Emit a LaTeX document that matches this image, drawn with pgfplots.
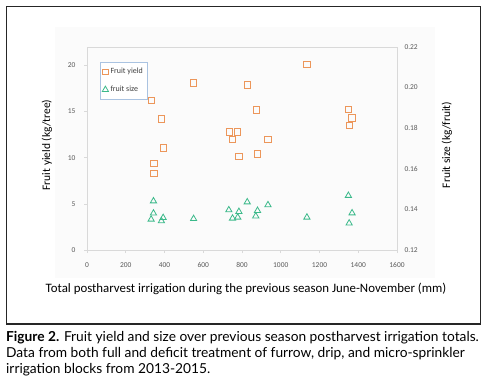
\documentclass[border=0pt]{standalone}
\usepackage{pgfplots}
\pgfplotsset{compat=1.18}
\usepackage{fontspec}
\setmainfont{Carlito}
\newfontfamily\capfont{Lato}
\definecolor{yorange}{RGB}{236,150,90}
\definecolor{sgreen}{RGB}{59,185,138}
\definecolor{axgray}{RGB}{217,217,217}
\definecolor{tickgray}{RGB}{89,89,89}
\definecolor{legblue}{RGB}{170,195,225}
\pgfplotstableread{
x y
1135 20.1
550 18.1
828 17.9
331 16.2
874 15.2
1349 15.25
1368 14.3
1355 13.5
384 14.2
734 12.8
775 12.8
751 12.0
934 12.0
394 11.05
784 10.15
880 10.4
345 9.4
345 8.3
}\yieldtab
\pgfplotstableread{
x y
343 0.1441
343 0.1381
331 0.1351
393 0.1359
384 0.1343
550 0.1354
732 0.1397
784 0.1389
751 0.1356
778 0.1361
827 0.1436
880 0.1394
871 0.1367
934 0.1422
1135 0.1361
1349 0.1468
1368 0.1382
1353 0.1332
}\sizetab
\begin{document}
\begin{tikzpicture}[x=1bp,y=1bp]
\path[use as bounding box] (0,0) rectangle (490,382);
\fill[gray!3] (55,355) rectangle (435,104);
\draw[line width=1.5bp, black!85] (6.5,375.5) rectangle (480.5,58);
\begin{axis}[
  at={(87bp,132bp)}, anchor=south west,
  scale only axis, width=310bp, height=203bp,
  xmin=0, xmax=1600, ymin=0, ymax=22,
  xtick={0,200,...,1600}, ytick={0,5,...,20},
  axis line style={axgray, line width=0.8bp},
  tick style={axgray, line width=0.6bp},
  major tick length=3bp,
  tick align=outside,
  xtick pos=bottom, ytick pos=left,
  ticklabel style={font=\fontsize{7.5}{8}\selectfont, text=tickgray},
  /pgf/number format/assume math mode=true,
  /pgf/number format/1000 sep={},
  xticklabel style={yshift=-6bp},
  yticklabel style={xshift=-5bp},
  clip=false,
]
\addplot[only marks, mark=square, mark size=3.2bp, draw=yorange, line width=0.8bp] table[x=x,y=y] {\yieldtab};
\end{axis}
\begin{axis}[
  at={(87bp,132bp)}, anchor=south west,
  scale only axis, width=310bp, height=203bp,
  xmin=0, xmax=1600, ymin=0.12, ymax=0.22,
  axis x line=none,
  axis y line*=right,
  ytick={0.12,0.14,...,0.22},
  axis line style={axgray, line width=0.8bp},
  tick style={draw=none},
  ticklabel style={font=\fontsize{7.5}{8}\selectfont, text=tickgray},
  /pgf/number format/assume math mode=true,
  yticklabel style={/pgf/number format/fixed, /pgf/number format/fixed zerofill, /pgf/number format/precision=2, xshift=4bp},
  legend style={at={(0.042,0.926)}, anchor=north west, draw=legblue, line width=0.5bp,
    font=\fontsize{8}{9}\selectfont, text=black!75, inner xsep=2bp, inner ysep=4bp, row sep=7bp},
  legend cell align=left,
  legend image code/.code={\draw[#1] plot coordinates {(0bp,0bp)};},
  clip=false,
]
\addlegendimage{only marks, mark=square, mark size=2.8bp, draw=yorange, line width=0.7bp}
\addlegendentry{Fruit yield}
\addplot[only marks, mark=triangle, mark size=3.6bp, draw=sgreen, line width=0.8bp] table[x=x,y=y] {\sizetab};
\addlegendentry{fruit size}
\end{axis}
\node[font=\fontsize{12.9}{14}\selectfont] at (246,93) {Total postharvest irrigation during the previous season June-November (mm)};
\node[font=\fontsize{11.5}{12}\selectfont, rotate=90] at (47,237) {Fruit yield (kg/tree)};
\node[font=\fontsize{11.5}{12}\selectfont, rotate=90] at (447,237) {Fruit size (kg/fruit)};
\node[anchor=base west, inner sep=0, font=\capfont\fontsize{13.8}{15}\selectfont] at (6,41) {\textbf{Figure 2.} Fruit yield and size over previous season postharvest irrigation totals.};
\node[anchor=base west, inner sep=0, font=\capfont\fontsize{13.8}{15}\selectfont] at (6,25) {Data from both full and deficit treatment of furrow, drip, and micro-sprinkler};
\node[anchor=base west, inner sep=0, font=\capfont\fontsize{13.8}{15}\selectfont] at (6,9) {irrigation blocks from 2013-2015.};
\end{tikzpicture}
\end{document}
